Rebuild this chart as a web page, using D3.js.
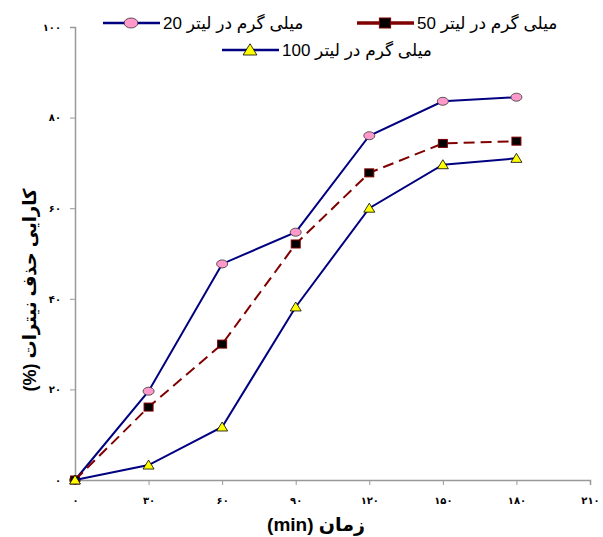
<!DOCTYPE html>
<html lang="fa">
<head>
<meta charset="UTF-8">
<title>کارایی حذف نیترات</title>
<script src="https://cdn.jsdelivr.net/npm/d3@7"></script>
<style>
  body { margin: 0; background: #fff; }
  text { font-family: "Liberation Sans", "DejaVu Sans", sans-serif; }
</style>
</head>
<body>
<div id="chart"></div>
<script>
// data
const times = [0, 30, 60, 90, 120, 150, 180];
const s20 = [0, 19.6, 47.7, 54.7, 76.0, 83.6, 84.5];
const s50 = [0, 16.1, 30.0, 52.1, 67.8, 74.3, 74.8];
const s100 = [0, 3.3, 11.7, 38.2, 60.0, 69.6, 71.0];
const xTicks = [0, 30, 60, 90, 120, 150, 180, 210];
const yTicks = [0, 20, 40, 60, 80, 100];
const names = ["میلی گرم در لیتر 20", "میلی گرم در لیتر 50", "میلی گرم در لیتر 100"];

const W = 603, H = 537;
const margin = {top: 27, right: 13, bottom: 57, left: 75};
const width = W - margin.left - margin.right,
      height = H - margin.top - margin.bottom;

const fa = n => String(n).replace(/\d/g, c => "۰۱۲۳۴۵۶۷۸۹"[c]);

const svg = d3.select("#chart").append("svg")
    .attr("width", W).attr("height", H);
const g = svg.append("g")
    .attr("transform", `translate(${margin.left},${margin.top})`);

const x = d3.scaleLinear().domain([0, 210]).range([0, width]);
const y = d3.scaleLinear().domain([0, 100]).range([height, 0]);

// axes
const xAxis = g.append("g")
    .attr("transform", `translate(0,${height})`)
    .call(d3.axisBottom(x).tickValues(xTicks).tickSize(5).tickPadding(12).tickFormat(fa));
const yAxis = g.append("g")
    .call(d3.axisLeft(y).tickValues(yTicks).tickSize(5).tickPadding(9).tickFormat(fa));
[xAxis, yAxis].forEach(a => {
  a.select(".domain").attr("stroke", "#999").attr("stroke-width", 1.5);
  a.selectAll(".tick line").attr("stroke", "#999");
  a.selectAll("text").attr("fill", "#000").style("font-size", "10px").style("font-weight", "bold");
});

// series
const series = [
  {name: names[0], vals: s20, stroke: "#000080", dash: null, marker: "circle", fill: "#ff99cc", mstroke: "#333"},
  {name: names[1], vals: s50, stroke: "#800000", dash: "11,6", marker: "square", fill: "#000", mstroke: "#800000"},
  {name: names[2], vals: s100, stroke: "#000080", dash: null, marker: "triangle", fill: "#ffff00", mstroke: "#000"}
];

function drawMarker(sel, s, k) {
  k = k || 1;
  if (s.marker === "circle") {
    sel.append("ellipse").attr("rx", 5.5 * k).attr("ry", 4 * k)
      .attr("fill", s.fill).attr("stroke", s.mstroke).attr("stroke-width", 0.8);
  } else if (s.marker === "square") {
    sel.append("rect").attr("x", -4.5 * k).attr("y", -4 * k).attr("width", 9 * k).attr("height", 8 * k)
      .attr("fill", s.fill).attr("stroke", s.mstroke).attr("stroke-width", 1);
  } else {
    sel.append("path").attr("d", `M0,${-5 * k}L${5.5 * k},${4 * k}L${-5.5 * k},${4 * k}Z`)
      .attr("fill", s.fill).attr("stroke", s.mstroke).attr("stroke-width", 0.8);
  }
}

const line = d3.line().x((d, i) => x(times[i])).y(d => y(d));

series.forEach(s => {
  g.append("path").datum(s.vals)
    .attr("fill", "none")
    .attr("stroke", s.stroke)
    .attr("stroke-width", 2)
    .attr("stroke-dasharray", s.dash)
    .attr("d", line);
  g.selectAll(null).data(s.vals).enter().append("g")
    .attr("transform", (d, i) => `translate(${x(times[i])},${y(d)})`)
    .each(function() { drawMarker(d3.select(this), s); });
});

// legend
const legendPos = [[103, 23], [357, 23], [222, 50]];
series.forEach((s, i) => {
  const [lx, ly] = legendPos[i];
  const item = svg.append("g").attr("transform", `translate(${lx},${ly})`);
  item.append("line").attr("x1", 0).attr("x2", 57).attr("y1", 0).attr("y2", 0)
    .attr("stroke", s.stroke).attr("stroke-width", i === 1 ? 3.5 : 2.5);
  drawMarker(item.append("g").attr("transform", "translate(28,0)"), s, 1.25);
  item.append("text")
    .attr("x", 60).attr("y", 6)
    .attr("direction", "rtl")
    .attr("text-anchor", "end")
    .style("font-size", "17px")
    .text(s.name);
});

// axis titles
svg.append("text")
  .attr("x", 316).attr("y", 531)
  .attr("direction", "rtl")
  .attr("text-anchor", "middle")
  .style("font-size", "19px").style("font-weight", "bold")
  .text("زمان (min)");

svg.append("text")
  .attr("transform", "translate(36,290) rotate(-90)")
  .attr("direction", "rtl")
  .attr("text-anchor", "middle")
  .style("font-size", "18px").style("font-weight", "bold")
  .text("کارایی حذف نیترات (%)");
</script>
</body>
</html>
